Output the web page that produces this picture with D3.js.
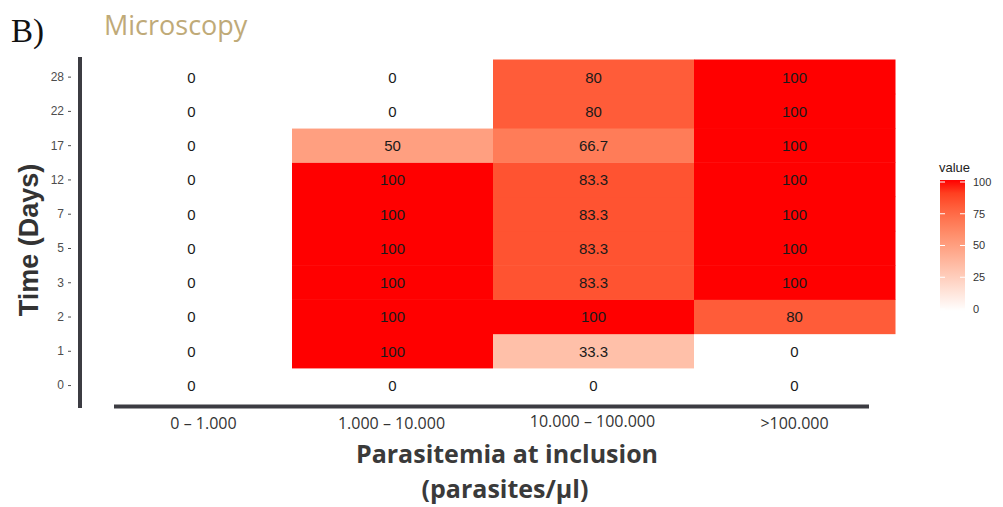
<!DOCTYPE html>
<html>
<head>
<meta charset="utf-8">
<script src="https://cdn.jsdelivr.net/npm/d3@7"></script>
<style>
  html, body { margin: 0; padding: 0; background: #fff; }
  svg { display: block; }
</style>
</head>
<body>
<svg id="chart" width="1003" height="507"></svg>
<script>
// Parasitemia groups (columns) and follow-up days (rows)
const groups = ["0 – 1.000", "1.000 – 10.000", "10.000 – 100.000", ">100.000"];
const days = ["0", "1", "2", "3", "5", "7", "12", "17", "22", "28"];

// Positivity (%) per group, listed in the same order as days
const group0 = [0, 0, 0, 0, 0, 0, 0, 0, 0, 0];
const group1 = [0, 100, 100, 100, 100, 100, 100, 50, 0, 0];
const group2 = [0, 33.3, 100, 83.3, 83.3, 83.3, 83.3, 66.7, 80, 80];
const group3 = [0, 0, 80, 100, 100, 100, 100, 100, 100, 100];

const legendTicks = [0, 25, 50, 75, 100];

const seriesByGroup = [group0, group1, group2, group3];
const cells = [];
groups.forEach((g, gi) => {
  days.forEach((d, di) => cells.push({ group: g, day: d, value: seriesByGroup[gi][di] }));
});

const svg = d3.select("#chart");

const x = d3.scaleBand().domain(groups).range([91, 895]).padding(0);
const y = d3.scaleBand().domain(days).range([402.7, 60]).padding(0);
const color = d3.scaleLinear().domain([0, 100]).range(["#ffffff", "#ff0000"])
  .interpolate(d3.interpolateLab);

// Tiles (slightly oversized so neighbouring tiles leave no seams)
svg.append("g").selectAll("rect").data(cells).join("rect")
  .attr("x", d => x(d.group))
  .attr("y", d => y(d.day) - 0.5)
  .attr("width", x.bandwidth() + 0.5)
  .attr("height", y.bandwidth() + 0.5)
  .attr("fill", d => color(d.value));

// Value labels
svg.append("g").selectAll("text").data(cells).join("text")
  .attr("x", d => x(d.group) + x.bandwidth() / 2)
  .attr("y", d => y(d.day) + y.bandwidth() / 2)
  .attr("dy", "0.36em")
  .attr("text-anchor", "middle")
  .attr("font-family", "Liberation Sans, Arial, sans-serif")
  .attr("font-size", 15)
  .attr("fill", "#1a1a1a")
  .text(d => d.value);

// Y axis: ticks and labels
const yAxis = d3.axisLeft(y).tickSize(3).tickPadding(4);
const gy = svg.append("g").attr("transform", "translate(71,0)").call(yAxis);
gy.select(".domain").remove();
gy.selectAll(".tick line").attr("stroke", "#4d4d4d").attr("stroke-width", 1);
gy.selectAll(".tick text")
  .attr("font-family", "Liberation Sans, Arial, sans-serif")
  .attr("font-size", 12)
  .attr("fill", "#4d4d4d");

// Heavy axis lines
svg.append("line")
  .attr("x1", 80).attr("x2", 80).attr("y1", 57).attr("y2", 408)
  .attr("stroke", "#3c3c42").attr("stroke-width", 4);
svg.append("line")
  .attr("x1", 114).attr("x2", 869).attr("y1", 406.5).attr("y2", 406.5)
  .attr("stroke", "#3c3c42").attr("stroke-width", 4);

// X category labels
const xLabelY = { "0 – 1.000": 429, "1.000 – 10.000": 429, "10.000 – 100.000": 427, ">100.000": 429 };
const xLabelShift = { "0 – 1.000": 12, "1.000 – 10.000": -1, "10.000 – 100.000": -1, ">100.000": 0 };
svg.append("g").selectAll("text").data(groups).join("text")
  .attr("x", d => x(d) + x.bandwidth() / 2 + xLabelShift[d])
  .attr("y", d => xLabelY[d])
  .attr("text-anchor", "middle")
  .attr("font-family", "Open Sans, Noto Sans, sans-serif")
  .attr("font-size", 16)
  .attr("fill", "#333")
  .text(d => d);

// Axis titles
svg.append("text")
  .attr("x", 507).attr("y", 463)
  .attr("text-anchor", "middle")
  .attr("font-family", "Open Sans, Noto Sans, sans-serif")
  .attr("font-weight", "bold")
  .attr("font-size", 25)
  .attr("fill", "#3a3a3a")
  .text("Parasitemia at inclusion");
svg.append("text")
  .attr("x", 505).attr("y", 498)
  .attr("text-anchor", "middle")
  .attr("font-family", "Open Sans, Noto Sans, sans-serif")
  .attr("font-weight", "bold")
  .attr("font-size", 25)
  .attr("fill", "#3a3a3a")
  .text("(parasites/µl)");

svg.append("text")
  .attr("transform", "translate(38,240) rotate(-90)")
  .attr("text-anchor", "middle")
  .attr("font-family", "Liberation Sans, Arial, sans-serif")
  .attr("font-weight", "bold")
  .attr("font-size", 27)
  .attr("fill", "#333")
  .text("Time (Days)");

// Panel heading
svg.append("text")
  .attr("x", 11).attr("y", 42)
  .attr("font-family", "Liberation Serif, Times New Roman, serif")
  .attr("font-size", 33)
  .attr("fill", "#111")
  .text("B)");
svg.append("text")
  .attr("x", 104).attr("y", 35)
  .attr("font-family", "Open Sans, Noto Sans, sans-serif")
  .attr("font-size", 27)
  .attr("fill", "#bfaa78")
  .text("Microscopy");

// Colour bar legend
const legY = d3.scaleLinear().domain([0, 100]).range([309, 182]);
const defs = svg.append("defs");
const grad = defs.append("linearGradient").attr("id", "valueGrad")
  .attr("x1", 0).attr("x2", 0).attr("y1", 1).attr("y2", 0);
d3.range(0, 101, 10).forEach(v => {
  grad.append("stop").attr("offset", v / 100).attr("stop-color", color(v));
});
svg.append("rect")
  .attr("x", 940).attr("y", legY(100) - 2)
  .attr("width", 25).attr("height", legY(0) - legY(100) + 4)
  .attr("fill", "url(#valueGrad)");
const legG = svg.append("g");
legG.selectAll("line.l").data(legendTicks).join("line")
  .attr("x1", 940).attr("x2", 945)
  .attr("y1", d => legY(d)).attr("y2", d => legY(d))
  .attr("stroke", "#fff").attr("stroke-width", 1);
legG.selectAll("line.r").data(legendTicks).join("line")
  .attr("x1", 960).attr("x2", 965)
  .attr("y1", d => legY(d)).attr("y2", d => legY(d))
  .attr("stroke", "#fff").attr("stroke-width", 1);
legG.selectAll("text").data(legendTicks).join("text")
  .attr("x", 973).attr("y", d => legY(d)).attr("dy", "0.35em")
  .attr("font-family", "Liberation Sans, Arial, sans-serif")
  .attr("font-size", 11)
  .attr("fill", "#333")
  .text(d => d);
svg.append("text")
  .attr("x", 939).attr("y", 172)
  .attr("font-family", "Liberation Sans, Arial, sans-serif")
  .attr("font-size", 13)
  .attr("fill", "#222")
  .text("value");
</script>
</body>
</html>
